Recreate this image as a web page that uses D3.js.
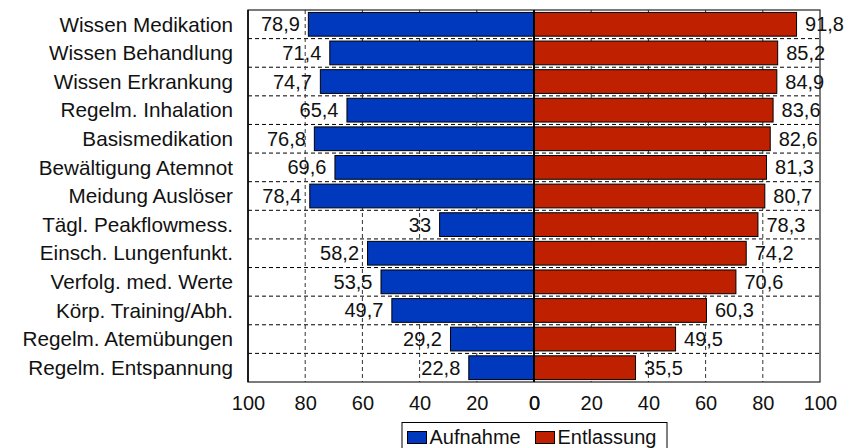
<!DOCTYPE html>
<html><head><meta charset="utf-8">
<script src="https://cdn.jsdelivr.net/npm/d3@7"></script>
<style>body{margin:0;background:#fff}svg{display:block;font-family:"Liberation Sans",Arial,sans-serif}</style>
</head><body>
<svg id="c" width="865" height="448"></svg>
<script>
const categories = ["Wissen Medikation","Wissen Behandlung","Wissen Erkrankung","Regelm. Inhalation","Basismedikation","Bewältigung Atemnot","Meidung Auslöser","Tägl. Peakflowmess.","Einsch. Lungenfunkt.","Verfolg. med. Werte","Körp. Training/Abh.","Regelm. Atemübungen","Regelm. Entspannung"];
const aufnahme = [78.9,71.4,74.7,65.4,76.8,69.6,78.4,33,58.2,53.5,49.7,29.2,22.8];
const entlassung = [91.8,85.2,84.9,83.6,82.6,81.3,80.7,78.3,74.2,70.6,60.3,49.5,35.5];
const tickValues = [0,20,40,60,80,100];
const seriesNames = ["Aufnahme","Entlassung"];
const colors = ["#0038BE","#BE2000"];

const svg = d3.select("#c");
const L = 248, C = 534, R = 820, T = 10, B = 382;
const xl = d3.scaleLinear().domain([0,100]).range([C, L]);
const xr = d3.scaleLinear().domain([0,100]).range([C, R]);
const y = d3.scaleBand().domain(categories).range([T, B]).paddingInner(0.17).paddingOuter(0.085);
const fmt = v => String(v).replace(".", ",");

// grid
const g = svg.append("g");
const step = (B - T) / categories.length;
categories.slice(1).forEach((c,i) => {
  const yy = T + step*(i+1);
  g.append("line").attr("x1",L).attr("x2",R).attr("y1",yy).attr("y2",yy)
    .attr("stroke","#000").attr("stroke-dasharray","4,3").attr("stroke-width",1);
});
tickValues.filter(v => v>0 && v<100).forEach(v => {
  [xl(v), xr(v)].forEach(xx => {
    g.append("line").attr("x1",xx).attr("x2",xx).attr("y1",T).attr("y2",B)
      .attr("stroke","#333").attr("stroke-dasharray","4,3").attr("stroke-width",1);
  });
});

// bars
svg.append("g").selectAll("rect").data(categories).join("rect")
  .attr("x",(d,i)=>xl(aufnahme[i])).attr("y",d=>y(d))
  .attr("width",(d,i)=>C - xl(aufnahme[i])).attr("height",y.bandwidth())
  .attr("fill",colors[0]).attr("stroke","#000").attr("stroke-width",1);
svg.append("g").selectAll("rect").data(categories).join("rect")
  .attr("x",C).attr("y",d=>y(d))
  .attr("width",(d,i)=>xr(entlassung[i]) - C).attr("height",y.bandwidth())
  .attr("fill",colors[1]).attr("stroke","#000").attr("stroke-width",1);

// border & center line
svg.append("rect").attr("x",L).attr("y",T).attr("width",R-L).attr("height",B-T)
  .attr("fill","none").attr("stroke","#222").attr("stroke-width",1.2);
svg.append("line").attr("x1",L).attr("x2",L).attr("y1",T).attr("y2",B).attr("stroke","#000").attr("stroke-width",1.5);
svg.append("line").attr("x1",C).attr("x2",C).attr("y1",T).attr("y2",B).attr("stroke","#000").attr("stroke-width",2);

// value labels
const fs = 20;
svg.append("g").selectAll("text").data(categories).join("text")
  .attr("x",(d,i)=>xl(aufnahme[i]) - 8.5).attr("y",d=>y(d)+y.bandwidth()/2).attr("dy","0.35em")
  .attr("text-anchor","end").attr("font-size",fs).attr("fill","#111")
  .text((d,i)=>fmt(aufnahme[i]));
svg.append("g").selectAll("text").data(categories).join("text")
  .attr("x",(d,i)=>xr(entlassung[i]) + 8.5).attr("y",d=>y(d)+y.bandwidth()/2).attr("dy","0.35em")
  .attr("text-anchor","start").attr("font-size",fs).attr("fill","#111")
  .text((d,i)=>fmt(entlassung[i]));

// category labels
svg.append("g").selectAll("text").data(categories).join("text")
  .attr("x",233).attr("y",d=>y(d)+y.bandwidth()/2).attr("dy","0.35em")
  .attr("text-anchor","end").attr("font-size",20.7).attr("fill","#111")
  .text(d=>d);

// axes
const axL = d3.axisBottom(xl).tickValues(tickValues).tickSize(0).tickPadding(0);
const axR = d3.axisBottom(xr).tickValues(tickValues).tickSize(0).tickPadding(0);
[axL, axR].forEach(ax => {
  const a = svg.append("g").attr("transform",`translate(0,${B})`).call(ax);
  a.select(".domain").remove();
  a.selectAll("text").attr("font-size",fs).attr("font-family","Liberation Sans, Arial, sans-serif")
    .attr("fill","#111").attr("dy",null).attr("y",28);
});

// legend
const lg = svg.append("g");
lg.append("rect").attr("x",402).attr("y",422.5).attr("width",265).attr("height",40)
  .attr("fill","#fff").attr("stroke","#000").attr("stroke-width",1);
const lx = [407.5, 535.5];
seriesNames.forEach((n,i) => {
  lg.append("rect").attr("x",lx[i]).attr("y",431.5).attr("width",19).attr("height",12)
    .attr("fill",colors[i]).attr("stroke","#000").attr("stroke-width",1);
  lg.append("text").attr("x",lx[i]+22).attr("y",444).attr("font-size",fs).attr("fill","#111").text(n);
});
</script>
</body></html>
